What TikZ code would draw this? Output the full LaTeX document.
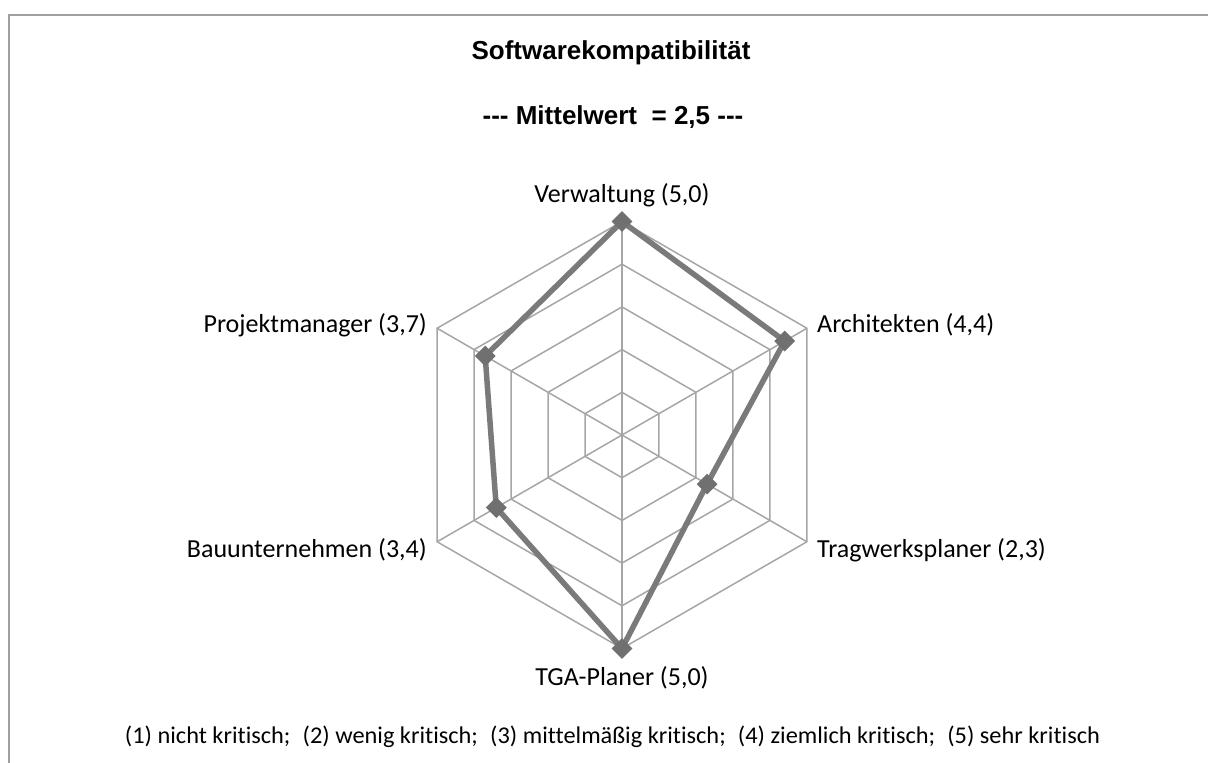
\documentclass[tikz,border=0pt]{standalone}
\usepackage{fontspec}
\setmainfont{Carlito}[Ligatures={TeX,NoCommon}]
\newfontfamily\arialfont{Liberation Sans}[Ligatures={NoCommon}]
\usepackage{graphicx}
\usetikzlibrary{shapes.geometric}

\definecolor{gridgray}{RGB}{166,166,166}
\definecolor{framegray}{RGB}{160,160,160}
\definecolor{seriesgray}{RGB}{122,122,122}
\definecolor{markgray}{RGB}{112,112,112}

\begin{document}
\begin{tikzpicture}[x=1pt,y=-1pt,
  gridline/.style={draw=gridgray, line width=1.5pt},
  frameline/.style={draw=framegray, line width=2.2pt},
  seriesline/.style={draw=seriesgray, line width=5.5pt, line join=round},
  marker/.style={diamond, fill=markgray, draw=none, inner sep=0pt, minimum size=21pt},
  axislabel/.style={inner sep=0pt, font=\fontsize{26}{31}\selectfont},
  titletext/.style={inner sep=0pt, anchor=base, font=\arialfont\bfseries\fontsize{26}{31}\selectfont},
  legendtext/.style={inner sep=0pt, anchor=base, font=\fontsize{24}{28}\selectfont}
]
\useasboundingbox (0,0) rectangle (1208,763);

% chart frame (top and left edges)
\draw[frameline] (9,763) -- (9,15) -- (1208,15);

% titles
\node[titletext] (title) at (611,59) {Softwarekompatibilität};
\node[titletext] (subtitle) at (613,124) {-{}-{}- Mittelwert\ \ = 2,5 -{}-{}-};

% centre of the radar
\coordinate (C) at (622,435);

% grid rings, one per scale step
\foreach \k in {1,...,5}{
  \pgfmathsetmacro\r{\k*42.7}
  \draw[gridline]
    ([shift={(90:\r pt)}]C) -- ([shift={(30:\r pt)}]C) --
    ([shift={(-30:\r pt)}]C) -- ([shift={(-90:\r pt)}]C) --
    ([shift={(-150:\r pt)}]C) -- ([shift={(150:\r pt)}]C) -- cycle;
}

% spokes
\foreach \i/\ang in {1/90,2/30,3/-30,4/-90,5/-150,6/150}{
  \coordinate (a\i) at ([shift={(\ang:213.5pt)}]C);
  \draw[gridline] (C) -- (a\i);
}

% data points
\foreach \i/\ang/\v in {1/90/5.0, 2/30/4.4, 3/-30/2.3, 4/-90/5.0, 5/-150/3.4, 6/150/3.7}{
  \pgfmathsetmacro\r{\v*42.7}
  \coordinate (p\i) at ([shift={(\ang:\r pt)}]C);
}

\draw[seriesline] (p1) -- (p2) -- (p3) -- (p4) -- (p5) -- (p6) -- cycle;

\foreach \i in {1,...,6}{
  \node[marker] (m\i) at (p\i) {};
}

% axis labels
\node[axislabel, anchor=base] (l1) at (622,202) {Verwaltung (5,0)};
\node[axislabel, anchor=base west] (l2) at (817,332) {Architekten (4,4)};
\node[axislabel, anchor=base west] (l3) at (817,557) {Tragwerksplaner (2,3)};
\node[axislabel, anchor=base] (l4) at (622,685) {TGA-Planer (5,0)};
\node[axislabel, anchor=base east] (l5) at (427,557) {Bauunternehmen (3,4)};
\node[axislabel, anchor=base east] (l6) at (427,332) {Projektmanager (3,7)};

% scale legend
\node[legendtext] (legend) at (612.5,743) {\resizebox{975pt}{\height}{%
  (1) nicht kritisch;\hspace{12pt}(2) wenig kritisch;\hspace{12pt}(3) mittelmäßig kritisch;\hspace{12pt}(4) ziemlich kritisch;\hspace{12pt}(5) sehr kritisch}};
\end{tikzpicture}
\end{document}
